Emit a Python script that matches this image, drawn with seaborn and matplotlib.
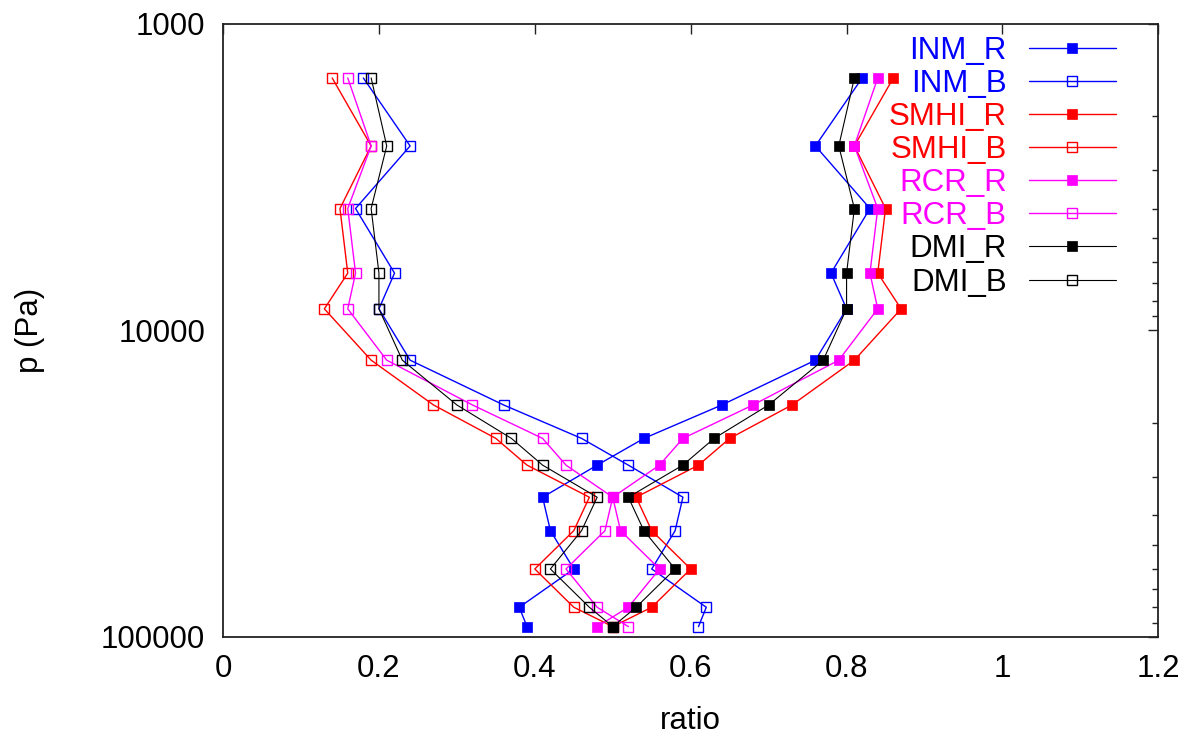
import numpy as np
import pandas as pd
import matplotlib
matplotlib.use("Agg")
import matplotlib.pyplot as plt
import seaborn as sns
from matplotlib.ticker import LogLocator, NullFormatter

# Pressure levels (Pa) and fraction of each regime per model
pressure = [1500, 2500, 4000, 6500, 8500, 12500, 17500, 22500, 27500,
            35000, 45000, 60000, 80000, 92500]

inm_r = [0.82, 0.76, 0.83, 0.78, 0.80, 0.76, 0.64, 0.54, 0.48, 0.41, 0.42, 0.45, 0.38, 0.39]
inm_b = [0.18, 0.24, 0.17, 0.22, 0.20, 0.24, 0.36, 0.46, 0.52, 0.59, 0.58, 0.55, 0.62, 0.61]
smhi_r = [0.86, 0.81, 0.85, 0.84, 0.87, 0.81, 0.73, 0.65, 0.61, 0.53, 0.55, 0.60, 0.55, 0.50]
smhi_b = [0.14, 0.19, 0.15, 0.16, 0.13, 0.19, 0.27, 0.35, 0.39, 0.47, 0.45, 0.40, 0.45, 0.50]
rcr_r = [0.84, 0.81, 0.84, 0.83, 0.84, 0.79, 0.68, 0.59, 0.56, 0.50, 0.51, 0.56, 0.52, 0.48]
rcr_b = [0.16, 0.19, 0.16, 0.17, 0.16, 0.21, 0.32, 0.41, 0.44, 0.50, 0.49, 0.44, 0.48, 0.52]
dmi_r = [0.81, 0.79, 0.81, 0.80, 0.80, 0.77, 0.70, 0.63, 0.59, 0.52, 0.54, 0.58, 0.53, 0.50]
dmi_b = [0.19, 0.21, 0.19, 0.20, 0.20, 0.23, 0.30, 0.37, 0.41, 0.48, 0.46, 0.42, 0.47, 0.50]

x_ticks = [0, 0.2, 0.4, 0.6, 0.8, 1.0, 1.2]
x_tick_labels = ["0", "0.2", "0.4", "0.6", "0.8", "1", "1.2"]
y_ticks = [1000, 10000, 100000]
y_tick_labels = ["1000", "10000", "100000"]

sns.set_style("white")
plt.rcParams["font.family"] = ["Liberation Sans", "DejaVu Sans"]
plt.rcParams.update({"text.color": "black", "axes.labelcolor": "black",
                     "xtick.color": "black", "ytick.color": "black"})
FS = 22.5

fig = plt.figure(figsize=(11.89, 7.38), dpi=100)
ax = fig.add_axes([0.1876, 0.1369, 0.7866, 0.8306])

series = [
    ("INM_R", inm_r, "#0000ff", True),
    ("INM_B", inm_b, "#0000ff", False),
    ("SMHI_R", smhi_r, "#ff0000", True),
    ("SMHI_B", smhi_b, "#ff0000", False),
    ("RCR_R", rcr_r, "#ff00ff", True),
    ("RCR_B", rcr_b, "#ff00ff", False),
    ("DMI_R", dmi_r, "#000000", True),
    ("DMI_B", dmi_b, "#000000", False),
]

for name, vals, color, filled in series:
    df = pd.DataFrame({"ratio": vals, "p": pressure})
    sns.lineplot(
        data=df, x="ratio", y="p", ax=ax, sort=False, estimator=None,
        color=color, lw=1.0 if name[:3] != "DMI" else 0.8,
        marker="s", markersize=7.5 if filled else 7.0,
        markerfacecolor=color if filled else "none",
        markeredgecolor=color, markeredgewidth=0.5 if filled else 1.0,
        label=name,
    )

ax.set_yscale("log")
ax.set_ylim(100000, 1000)
ax.set_xlim(0, 1.2)
ax.set_xticks(x_ticks, labels=x_tick_labels)
ax.set_yticks(y_ticks, labels=y_tick_labels)
ax.yaxis.set_minor_locator(LogLocator(base=10, subs=np.arange(2, 10)))
ax.yaxis.set_minor_formatter(NullFormatter())

ax.tick_params(which="both", direction="in", top=True, right=True,
               color="#222222", labelsize=FS, labelcolor="black")
ax.tick_params(which="major", length=7, width=1.0)
ax.tick_params(which="minor", length=4, width=1.0)
ax.tick_params(axis="y", pad=13)
ax.tick_params(axis="x", pad=12)

for sp in ax.spines.values():
    sp.set_visible(True)
    sp.set_linewidth(1.3)
    sp.set_color("#222222")

ax.set_xlabel("ratio", fontsize=FS, color="black")
ax.set_ylabel("p (Pa)", fontsize=FS, color="black")
ax.xaxis.set_label_coords(0.5, -0.113)
ax.yaxis.set_label_coords(-0.190, 0.5)

ax.legend(loc="upper right", bbox_to_anchor=(0.955, 0.981), frameon=False,
          markerfirst=False, handlelength=2.8, handletextpad=0.7,
          labelspacing=0.1, borderpad=0, borderaxespad=0, fontsize=FS,
          labelcolor="linecolor", numpoints=1)

fig.savefig("out.png", dpi=100)
